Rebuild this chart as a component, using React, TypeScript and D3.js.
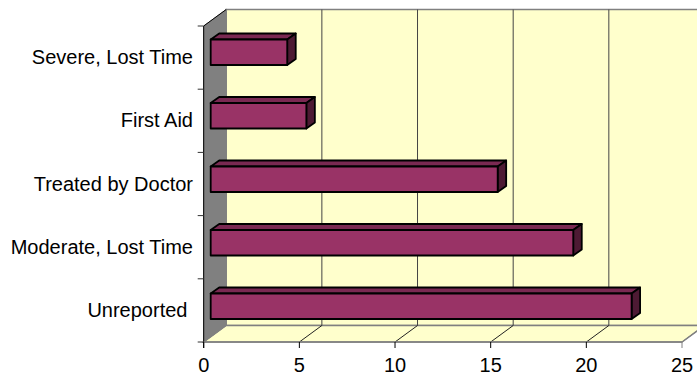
import React from "react";
import * as d3 from "d3";

const categories = ["Severe, Lost Time", "First Aid", "Treated by Doctor", "Moderate, Lost Time", "Unreported "];
const values = [4, 5, 15, 18.95, 22];
const xTicks = [0, 5, 10, 15, 20, 25];

const W = 697, H = 378;
const x = d3.scaleLinear().domain([0, 25]).range([203.7, 682]);
const y = d3.scaleBand<string>().domain(categories).range([26, 342]);
const barY = d3.scaleBand<string>().domain(categories).range([26.5, 344]);
const DX = 22.5, DY = 16.5;
const bDX = 8.5, bDY = 6;
const barH = 25.5;
const barX0 = 7;
const x0 = x(0), top = y.range()[0], bot = y.range()[1];
const poly = (p: [number, number][]) => (d3.line()(p) || "") + "Z";

export default function App() {
  const xr = x(25);
  return (
    <svg width={W} height={H} style={{ position: "absolute", left: 0, top: 0, background: "#fff" }}
      fontFamily="'Liberation Sans', Arial, sans-serif" fontSize={20}>
      {/* back wall */}
      <path d={poly([[x0 + DX, top - DY], [xr + DX, top - DY], [xr + DX, bot - DY], [x0 + DX, bot - DY]])} fill="#FFFFCC" stroke="#808080" strokeWidth={1.5} />
      {/* floor */}
      <path d={poly([[x0, bot], [x0 + DX, bot - DY], [xr + DX, bot - DY], [xr, bot]])} fill="#FFFFCC" stroke="#808080" strokeWidth={1.5} />
      {/* left wall */}
      <path d={poly([[x0, top], [x0 + DX, top - DY], [x0 + DX, bot - DY], [x0, bot]])} fill="#808080" stroke="#808080" />
      {/* gridlines */}
      {xTicks.slice(1).map((t) => (
        <g key={t}>
          {t < 25 && <line x1={x(t) + DX} x2={x(t) + DX} y1={top - DY} y2={bot - DY} stroke="#444" strokeWidth={1} />}
          <line x1={x(t)} x2={x(t) + DX} y1={bot} y2={bot - DY} stroke={t < 25 ? "#222" : "#808080"} strokeWidth={1} />
        </g>
      ))}
      {/* axes */}
      <line x1={x0} x2={x0} y1={top} y2={bot + 6} stroke="#000" />
      <line x1={x0} x2={x0 + DX} y1={top} y2={top - DY} stroke="#000" />
      <line x1={x0} x2={xr} y1={bot} y2={bot} stroke="#808080" strokeWidth={1.5} />
      {[...categories.map((c) => y(c)!), bot].map((v, i) => (
        <line key={i} x1={x0 - 6} x2={x0} y1={v} y2={v} stroke="#333" />
      ))}
      {xTicks.map((t) => (
        <line key={t} x1={x(t)} x2={x(t)} y1={bot} y2={bot + 6} stroke={t === 25 ? "#808080" : "#000"} />
      ))}
      {/* bars */}
      {categories.map((c, i) => {
        const by = barY(c)! + 13;
        const l = x0 + barX0, r = l + (x(values[i]) - x0);
        return (
          <g key={c} stroke="#000" strokeWidth={1.8} strokeLinejoin="round">
            <path d={poly([[l, by], [l + bDX, by - bDY], [r + bDX, by - bDY], [r, by]])} fill="#7A2952" />
            <path d={poly([[r, by], [r + bDX, by - bDY], [r + bDX, by + barH - bDY], [r, by + barH]])} fill="#4D1A33" />
            <rect x={l} y={by} width={r - l} height={barH} fill="#993366" />
          </g>
        );
      })}
      {/* labels */}
      {categories.map((c) => (
        <text key={c} x={193} y={y(c)! + y.bandwidth() / 2 + 6.5} textAnchor="end" fill="#000" xmlSpace="preserve" style={{ whiteSpace: "pre" }}>{c}</text>
      ))}
      {xTicks.map((t) => (
        <text key={t} x={x(t)} y={372} textAnchor="middle" fill="#000">{t}</text>
      ))}
    </svg>
  );
}
